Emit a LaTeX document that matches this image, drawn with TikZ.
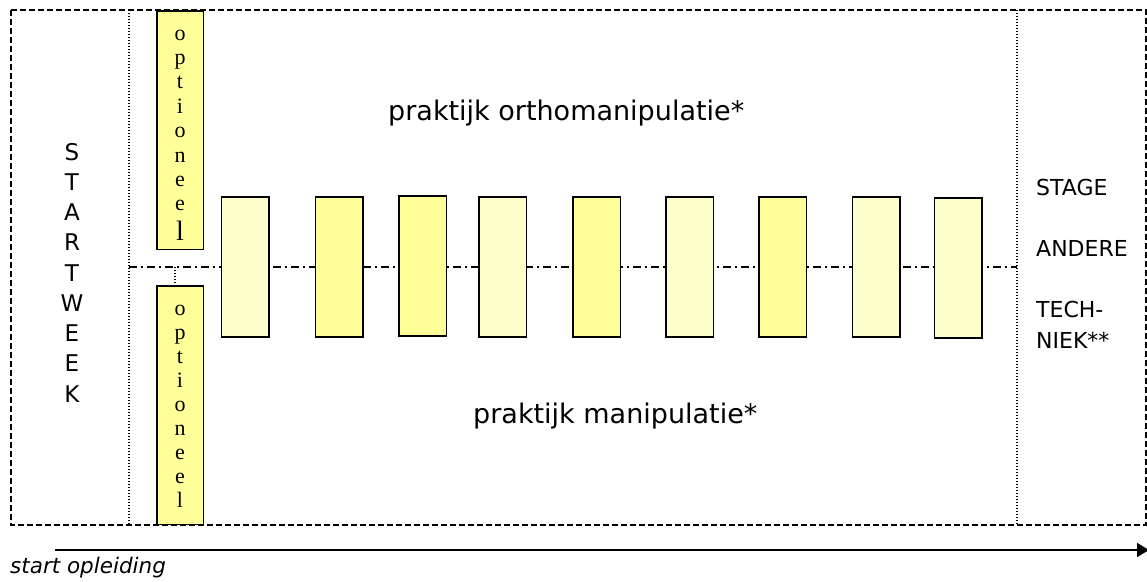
\documentclass[tikz,border=0pt]{standalone}
\usepackage{fontspec}
\setmainfont{DejaVu Sans}
\newfontfamily\optfont{Liberation Serif}
\usetikzlibrary{arrows.meta}
\definecolor{lightyel}{HTML}{FFFFCC}
\definecolor{yel}{HTML}{FFFF99}
\begin{document}
\begin{tikzpicture}[x=1pt,y=-1pt,
  frame/.style={draw=black, line width=2pt, dash pattern=on 6pt off 3pt},
  divider/.style={draw=black, line width=1.2pt, dash pattern=on 1.2pt off 1.8pt},
  axis/.style={draw=black, line width=1.4pt, dash pattern=on 8pt off 4pt on 2pt off 4pt},
  block/.style={draw=black, line width=1.5pt, minimum width=47.5pt, minimum height=140pt, inner sep=0pt},
  optbox/.style={draw=black, line width=1.5pt, fill=yel, minimum width=46.5pt, minimum height=238.5pt, inner sep=0pt},
  mainlbl/.style={font=\fontsize{27}{30}\selectfont, anchor=base west, inner sep=0pt},
  sidelbl/.style={font=\fontsize{22}{26}\selectfont, anchor=base west, inner sep=0pt},
  weeklbl/.style={font=\fontsize{23}{26}\selectfont, anchor=base, inner sep=0pt},
  optlbl/.style={font=\optfont\fontsize{22}{24}\selectfont, anchor=base, inner sep=0pt},
  timeline/.style={draw=black, line width=1.6pt, -{Triangle[length=12pt,width=14pt]}}
]
\useasboundingbox (0,0) rectangle (1147,581);
\fill[white] (0,0) rectangle (1147,581);

% outer frame and dividers
\draw[frame] (11,10) rectangle (1146,525);
\coordinate (dlT) at (129,10);
\coordinate (dlB) at (129,525);
\coordinate (drT) at (1017,10);
\coordinate (drB) at (1017,525);
\draw[divider] (dlT) -- (dlB);
\draw[divider] (drT) -- (drB);

% middle axis
\coordinate (axL) at (129,267);
\coordinate (axR) at (1017,267);
\draw[axis] (axL) -- (axR);

% practice blocks
\node[block, fill=lightyel] (b1) at (245,267) {};
\node[block, fill=yel]      (b2) at (339,267) {};
\node[block, fill=yel]      (b3) at (422.5,266) {};
\node[block, fill=lightyel] (b4) at (502.5,267) {};
\node[block, fill=yel]      (b5) at (596.5,267) {};
\node[block, fill=lightyel] (b6) at (689.5,267) {};
\node[block, fill=yel]      (b7) at (782.5,267) {};
\node[block, fill=lightyel] (b8) at (876,267) {};
\node[block, fill=lightyel] (b9) at (958,268) {};

% optional boxes
\node[optbox] (optA) at (180,130) {};
\node[optbox] (optB) at (180,405) {};
\coordinate (axO) at (175,267);
\draw[divider] (axO) -- (axO |- optB.north);

\foreach \l [count=\i] in {o,p,t,i,o,n,e,e}
  \node[optlbl] (oa\i) at (180,{40+(\i-1)*24.4}) {\l};
\node[optlbl, font=\optfont\fontsize{28}{30}\selectfont] (oa9) at (180,240) {l};
\foreach \l [count=\i] in {o,p,t,i,o,n,e,e,l}
  \node[optlbl] (ob\i) at (180,{315+(\i-1)*24}) {\l};

% start week
\foreach \l [count=\i] in {S,T,A,R,T,W,E,E,K}
  \node[weeklbl] (sw\i) at (72,{160+(\i-1)*30.25}) {\l};

% labels
\node[mainlbl] (ortho) at (388,120) {praktijk orthomanipulatie*};
\node[mainlbl] (manip) at (473,423) {praktijk manipulatie*};
\node[sidelbl] (stage) at (1036,195) {STAGE};
\node[sidelbl] (andere) at (1036,256) {ANDERE};
\node[sidelbl] (tech) at (1036,317) {TECH-};
\node[sidelbl] (niek) at (1036,348) {NIEK**};

% timeline
\coordinate (tlS) at (55,550);
\coordinate (tlE) at (1149,550);
\draw[timeline] (tlS) -- (tlE);
\node[anchor=base west, inner sep=0pt, font=\itshape\fontsize{21.5}{24}\selectfont] (start) at (10,573) {start opleiding};
\end{tikzpicture}
\end{document}
